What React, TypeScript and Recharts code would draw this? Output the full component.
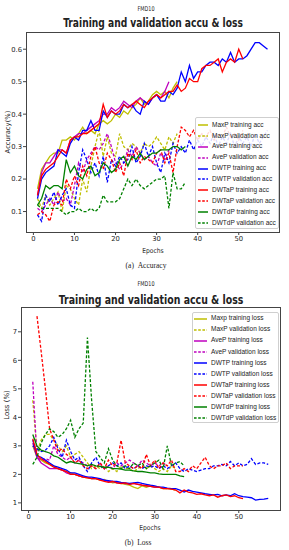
import React from 'react';
import { LineChart, Line, XAxis, YAxis } from 'recharts';

// ---------- data ----------
const epochs = [1,2,3,4,5,6,7,8,9,10,11,12,13,14,15,16,17,18,19,20,21,22,23,24,25,26,27,28,29,30,31,32,33,34,35,36,37,38,39,40,41,42,43,44,45,46,47,48,49,50,51,52,53,54,55,56,57];
const xTicks = [0, 10, 20, 30, 40, 50];
const accTicks = [0.1, 0.2, 0.3, 0.4, 0.5, 0.6];
const lossTicks = [1, 2, 3, 4, 5, 6, 7];

const maxpTrainAcc = [0.17,0.23,0.25,0.27,0.28,0.28,0.32,0.32,0.33,0.32,0.34,0.36,0.34,0.35,0.34,0.37,0.38,0.37,0.38,0.40,0.39,0.41,0.40,0.42,0.43,0.45,0.43,0.44,0.46,0.47,0.46,0.47,0.45,0.48,0.50];
const maxpValAcc = [0.14,0.11,0.15,0.12,0.14,0.16,0.10,0.18,0.17,0.14,0.12,0.20,0.16,0.24,0.30,0.35,0.27,0.33,0.28,0.27,0.34,0.30,0.29,0.31,0.30,0.28,0.31,0.30,0.31,0.33,0.31,0.29,0.33,0.31,0.34];
const aveTrainAcc = [0.15,0.22,0.25,0.25,0.27,0.29,0.29,0.28,0.32,0.33,0.34,0.34,0.35,0.36,0.37,0.38,0.40,0.40,0.42,0.41,0.42,0.44,0.43,0.42,0.44,0.45,0.44,0.43,0.45,0.46,0.45,0.47,0.50];
const aveValAcc = [0.11,0.10,0.12,0.14,0.12,0.16,0.13,0.14,0.12,0.18,0.25,0.22,0.26,0.28,0.30,0.29,0.31,0.34,0.30,0.25,0.23,0.25,0.29,0.27,0.30,0.28,0.26,0.27,0.25,0.24,0.28,0.26,0.29];
const dwtpTrainAcc = [0.14,0.20,0.22,0.23,0.24,0.29,0.28,0.27,0.31,0.33,0.32,0.35,0.35,0.38,0.35,0.35,0.41,0.39,0.41,0.40,0.40,0.43,0.42,0.43,0.41,0.40,0.44,0.43,0.45,0.46,0.44,0.44,0.47,0.46,0.48,0.53,0.50,0.55,0.51,0.53,0.53,0.55,0.56,0.56,0.55,0.57,0.56,0.59,0.56,0.57,0.57,0.58,0.60,0.62,0.62,0.61,0.60];
const dwtpValAcc = [0.09,0.07,0.15,0.13,0.16,0.12,0.15,0.17,0.12,0.11,0.22,0.29,0.26,0.22,0.25,0.21,0.27,0.19,0.26,0.24,0.27,0.25,0.26,0.30,0.25,0.27,0.31,0.27,0.30,0.25,0.22,0.28,0.25,0.31,0.28,0.30,0.28,0.32,0.29,0.32,0.30,0.33,0.31,0.34,0.30,0.33,0.31,0.34,0.30,0.33,0.31,0.33,0.30,0.34,0.31,0.33,0.35];
const dwtapTrainAcc = [0.15,0.21,0.23,0.24,0.25,0.27,0.29,0.28,0.32,0.33,0.33,0.34,0.34,0.35,0.36,0.37,0.43,0.39,0.41,0.40,0.41,0.43,0.42,0.43,0.44,0.43,0.42,0.44,0.45,0.46,0.45,0.46,0.47,0.47,0.49,0.47,0.48,0.51,0.50,0.50,0.54,0.55,0.55,0.56,0.57,0.53,0.56,0.57,0.56,0.60,0.57];
const dwtapValAcc = [0.09,0.10,0.09,0.07,0.12,0.13,0.12,0.20,0.17,0.21,0.18,0.24,0.21,0.27,0.30,0.25,0.23,0.28,0.26,0.22,0.25,0.21,0.28,0.26,0.29,0.25,0.27,0.26,0.25,0.28,0.29,0.25,0.28,0.22,0.30,0.36,0.35,0.33,0.35,0.32,0.34,0.33,0.35,0.32,0.34,0.33,0.36,0.33,0.34,0.32,0.35];
const dwtdpTrainAcc = [0.12,0.14,0.18,0.17,0.18,0.18,0.17,0.26,0.22,0.24,0.21,0.20,0.23,0.24,0.21,0.22,0.25,0.24,0.22,0.23,0.26,0.27,0.24,0.27,0.26,0.28,0.26,0.27,0.28,0.28,0.29,0.29,0.29,0.30,0.30,0.29,0.30];
const dwtdpValAcc = [0.12,0.11,0.11,0.11,0.11,0.11,0.10,0.09,0.10,0.10,0.11,0.10,0.10,0.11,0.10,0.11,0.15,0.13,0.13,0.13,0.14,0.17,0.20,0.18,0.20,0.18,0.17,0.18,0.19,0.20,0.20,0.21,0.11,0.22,0.17,0.17,0.19];

const maxpTrainLoss = [3.0,2.6,2.5,2.4,2.35,2.3,2.2,2.15,2.1,2.05,2.0,1.95,1.9,1.88,1.85,1.85,1.8,1.82,1.75,1.7,1.72,1.68,1.65,1.62,1.55,1.5,1.6,1.55,1.6,1.55,1.55,1.5,1.5,1.48,1.45];
const maxpValLoss = [4.6,2.8,3.2,3.4,3.4,3.2,3.0,2.8,3.0,2.6,2.7,2.8,2.6,2.4,2.2,2.3,2.2,2.3,2.1,2.2,2.1,2.3,2.2,2.2,2.1,2.2,2.3,2.2,2.3,2.2,2.1,2.2,2.1,2.3,2.2];
const aveTrainLoss = [3.1,2.6,2.4,2.3,2.2,2.2,2.2,2.15,2.05,2.0,2.0,1.95,1.9,1.9,1.85,1.85,1.82,1.8,1.75,1.75,1.7,1.7,1.68,1.65,1.68,1.65,1.62,1.6,1.58,1.55,1.55,1.52,1.5];
const aveValLoss = [5.25,2.6,2.5,2.55,2.5,3.0,2.7,2.6,2.5,2.6,2.4,2.5,2.4,2.3,2.3,2.2,2.4,2.2,2.3,2.2,2.4,2.3,2.4,2.5,2.4,2.3,2.5,2.4,2.3,2.4,2.3,2.4,2.3];
const dwtpTrainLoss = [3.2,2.65,2.6,2.5,2.4,2.3,2.25,2.2,2.15,2.05,2.05,2.0,1.95,1.9,1.9,1.88,1.85,1.8,1.78,1.75,1.75,1.72,1.7,1.68,1.7,1.72,1.68,1.65,1.62,1.6,1.55,1.55,1.52,1.5,1.5,1.45,1.38,1.45,1.4,1.38,1.35,1.32,1.3,1.28,1.3,1.25,1.28,1.25,1.32,1.25,1.22,1.2,1.18,1.1,1.12,1.13,1.16];
const dwtpValLoss = [3.0,2.9,2.8,2.85,3.0,3.3,2.9,2.6,3.2,2.8,2.5,2.6,2.3,2.1,2.4,2.6,2.3,2.2,2.3,2.4,2.3,2.4,2.2,2.3,2.2,2.3,2.2,2.3,2.25,2.3,2.2,2.3,2.2,2.3,2.4,2.2,2.1,2.2,2.15,2.1,2.15,2.2,2.2,2.3,2.3,2.35,2.3,2.45,2.3,2.4,2.3,2.35,2.55,2.35,2.4,2.4,2.35];
const dwtapTrainLoss = [3.25,2.7,2.55,2.45,2.35,2.25,2.2,2.15,2.1,2.0,2.0,1.95,1.9,1.88,1.85,1.85,1.8,1.75,1.72,1.75,1.7,1.68,1.7,1.65,1.68,1.65,1.62,1.6,1.58,1.55,1.55,1.5,1.5,1.48,1.45,1.35,1.45,1.38,1.35,1.3,1.32,1.28,1.25,1.28,1.2,1.25,1.28,1.22,1.25,1.18,1.15];
const dwtapValLoss = [null,7.55,6.3,5.0,3.6,3.2,2.8,2.9,2.7,2.6,2.4,2.5,2.3,2.2,2.3,2.2,2.4,2.2,2.5,2.3,2.4,3.2,2.4,2.3,2.2,2.3,2.2,2.7,2.3,2.5,2.2,2.4,2.3,2.5,2.1,2.1,2.2,2.1,2.3,2.2,2.4,2.6,2.3,2.2,2.3,2.3,2.4,2.2,2.3,2.3,2.3];
const dwtdpTrainLoss = [3.4,3.0,2.85,2.8,2.75,2.65,2.6,2.5,2.4,2.45,2.4,2.38,2.35,2.3,2.35,2.3,2.28,2.25,2.25,2.2,2.2,2.18,2.15,2.15,2.12,2.1,2.1,2.08,2.05,2.05,2.02,2.0,2.0,2.0,2.0,1.95,1.92];
const dwtdpValLoss = [2.35,2.6,3.1,3.4,3.6,3.5,3.3,3.4,3.6,3.9,3.3,3.6,3.8,6.8,4.6,2.8,2.6,2.4,2.9,2.5,2.3,2.2,2.3,2.2,2.4,2.3,2.4,2.2,2.3,2.4,2.5,2.2,3.0,2.3,2.4,2.45,2.3];

// ---------- series config ----------
const Y = '#bfbf00', M = '#bf00bf', B = '#0000ff', R = '#ff0000', G = '#008000';
type S = { key: string; name: string; color: string; dashed: boolean; values: (number | null)[] };

const accSeries: S[] = [
  { key: 'a0', name: 'MaxP training acc', color: Y, dashed: false, values: maxpTrainAcc },
  { key: 'a1', name: 'MaxP validation acc', color: Y, dashed: true, values: maxpValAcc },
  { key: 'a2', name: 'AveP training acc', color: M, dashed: false, values: aveTrainAcc },
  { key: 'a3', name: 'AveP validation acc', color: M, dashed: true, values: aveValAcc },
  { key: 'a4', name: 'DWTP training acc', color: B, dashed: false, values: dwtpTrainAcc },
  { key: 'a5', name: 'DWTP validation acc', color: B, dashed: true, values: dwtpValAcc },
  { key: 'a6', name: 'DWTaP training acc', color: R, dashed: false, values: dwtapTrainAcc },
  { key: 'a7', name: 'DWTaP validation acc', color: R, dashed: true, values: dwtapValAcc },
  { key: 'a8', name: 'DWTdP training acc', color: G, dashed: false, values: dwtdpTrainAcc },
  { key: 'a9', name: 'DWTdP validation acc', color: G, dashed: true, values: dwtdpValAcc },
];
const lossSeries: S[] = [
  { key: 'l0', name: 'Maxp training loss', color: Y, dashed: false, values: maxpTrainLoss },
  { key: 'l1', name: 'MaxP validation loss', color: Y, dashed: true, values: maxpValLoss },
  { key: 'l2', name: 'AveP training loss', color: M, dashed: false, values: aveTrainLoss },
  { key: 'l3', name: 'AveP validation loss', color: M, dashed: true, values: aveValLoss },
  { key: 'l4', name: 'DWTP training loss', color: B, dashed: false, values: dwtpTrainLoss },
  { key: 'l5', name: 'DWTP validation loss', color: B, dashed: true, values: dwtpValLoss },
  { key: 'l6', name: 'DWTaP training loss', color: R, dashed: false, values: dwtapTrainLoss },
  { key: 'l7', name: 'DWTaP validation loss', color: R, dashed: true, values: dwtapValLoss },
  { key: 'l8', name: 'DWTdP training loss', color: G, dashed: false, values: dwtdpTrainLoss },
  { key: 'l9', name: 'DWTdP validation loss', color: G, dashed: true, values: dwtdpValLoss },
];

function buildRows(series: S[]) {
  return epochs.map((e, i) => {
    const r: any = { epoch: e };
    series.forEach((s) => {
      const v = s.values[i];
      r[s.key] = v === undefined || v === null ? null : v;
    });
    return r;
  });
}

const TICK_FONT = 'DejaVu Sans';
const AXIS_COLOR = '#444';

function T({ x, y, size, family = 'DejaVu Sans', weight = 400, scale = 1, rotate = 0, children }: any) {
  return (
    <div
      style={{
        position: 'absolute', left: x, top: y,
        transform: `translate(-50%,-50%) rotate(${rotate}deg) scaleX(${scale})`,
        fontSize: size, fontFamily: family, fontWeight: weight,
        whiteSpace: 'nowrap', lineHeight: 1, color: '#222',
      }}
    >
      {children}
    </div>
  );
}

function LegendBox({ series, left, top, width, height, padTop, rowH, sampleOff, sampleLen, gap, fontSize }: any) {
  return (
    <div
      style={{
        position: 'absolute', left, top, width, height, boxSizing: 'border-box',
        border: '1px solid #cfcfcf', borderRadius: 2, background: 'rgba(255,255,255,0.85)',
        paddingTop: padTop,
      }}
    >
      {series.map((s: S) => (
        <div key={s.key} style={{ height: rowH, display: 'flex', alignItems: 'center' }}>
          <svg width={sampleOff + sampleLen} height={4} style={{ flex: 'none' }}>
            <line x1={sampleOff} x2={sampleOff + sampleLen} y1={2} y2={2} stroke={s.color}
              strokeWidth={1.5} strokeDasharray={s.dashed ? '2.6 1.6' : undefined} />
          </svg>
          <span style={{ marginLeft: gap, fontSize, fontFamily: 'Liberation Sans', color: '#222', whiteSpace: 'nowrap', lineHeight: 1 }}>
            {s.name}
          </span>
        </div>
      ))}
    </div>
  );
}

function Panel({ offsetTop, series, yDomain, yTicks, yWidth, margin, fmt, plot }: any) {
  const rows = buildRows(series);
  return (
    <div style={{ position: 'absolute', left: 0, top: offsetTop, width: 289, height: 275 }}>
      <LineChart width={289} height={275} data={rows} margin={margin}>
        <XAxis type="number" dataKey="epoch" domain={[-1.8, 59.8]} ticks={xTicks} allowDataOverflow
          interval={0} height={20} axisLine={false} tickSize={3} tickMargin={1}
          tickLine={{ stroke: AXIS_COLOR }} tick={{ fontSize: 6.8, fontFamily: TICK_FONT, fill: '#222' }} />
        <YAxis type="number" domain={yDomain} ticks={yTicks} allowDataOverflow width={yWidth}
          interval={0} axisLine={false} tickSize={3} tickMargin={1} tickFormatter={fmt}
          tickLine={{ stroke: AXIS_COLOR }} tick={{ fontSize: 6.8, fontFamily: TICK_FONT, fill: '#222' }} />
        {series.map((s: S) => (
          <Line key={s.key} dataKey={s.key} type="linear" stroke={s.color} strokeWidth={1.3}
            strokeDasharray={s.dashed ? '3 1.8' : undefined} dot={false} activeDot={false}
            isAnimationActive={false} connectNulls={false} />
        ))}
      </LineChart>
      <div style={{
        position: 'absolute', left: plot.x, top: plot.y, width: plot.w, height: plot.h,
        border: `1px solid ${AXIS_COLOR}`, boxSizing: 'border-box', pointerEvents: 'none',
      }} />
    </div>
  );
}

export default function App() {
  return (
    <div style={{ position: 'absolute', left: 0, top: 0, width: 289, height: 550, background: '#fff', overflow: 'hidden' }}>
      {/* Accuracy panel */}
      <Panel offsetTop={0} series={accSeries} yDomain={[0.037, 0.653]} yTicks={accTicks} yWidth={26}
        margin={{ top: 32, right: 10, bottom: 23, left: 0 }} fmt={(v: number) => v.toFixed(1)}
        plot={{ x: 26, y: 32, w: 254, h: 201 }} />
      <LegendBox series={accSeries} left={195} top={117} width={84} height={112} padTop={1.5}
        rowH={10.9} sampleOff={2} sampleLen={10} gap={4} fontSize={6.5} />
      <T x={146} y={9} size={6.5} scale={0.75}>FMD10</T>
      <T x={153} y={23} size={12.5} weight={700} scale={0.73}>Training and validation accu &amp; loss</T>
      <T x={153} y={251} size={6.8} scale={0.88}>Epochs</T>
      <T x={8} y={132} size={6.8} rotate={-90} scale={1}>Accuracy(%)</T>
      <T x={146} y={266} size={7.5} family="Liberation Serif">(a)&nbsp;&nbsp;Accuracy</T>

      {/* Loss panel */}
      <Panel offsetTop={275} series={lossSeries} yDomain={[0.75, 7.87]} yTicks={lossTicks} yWidth={21}
        margin={{ top: 32, right: 9, bottom: 20, left: 0 }} fmt={(v: number) => String(v)}
        plot={{ x: 21, y: 32, w: 260, h: 204 }} />
      <LegendBox series={lossSeries} left={192} top={312} width={87} height={111} padTop={0}
        rowH={11.1} sampleOff={1} sampleLen={13} gap={4} fontSize={6.5} />
      <T x={146} y={284} size={6.5} scale={0.75}>FMD10</T>
      <T x={151} y={300} size={12.5} weight={700} scale={0.75}>Training and validation accu &amp; loss</T>
      <T x={150} y={528} size={6.8} scale={0.88}>Epochs</T>
      <T x={7} y={405} size={7} rotate={-90}>Loss (%)</T>
      <T x={138} y={543} size={7.5} family="Liberation Serif">(b)&nbsp;&nbsp;Loss</T>
    </div>
  );
}
